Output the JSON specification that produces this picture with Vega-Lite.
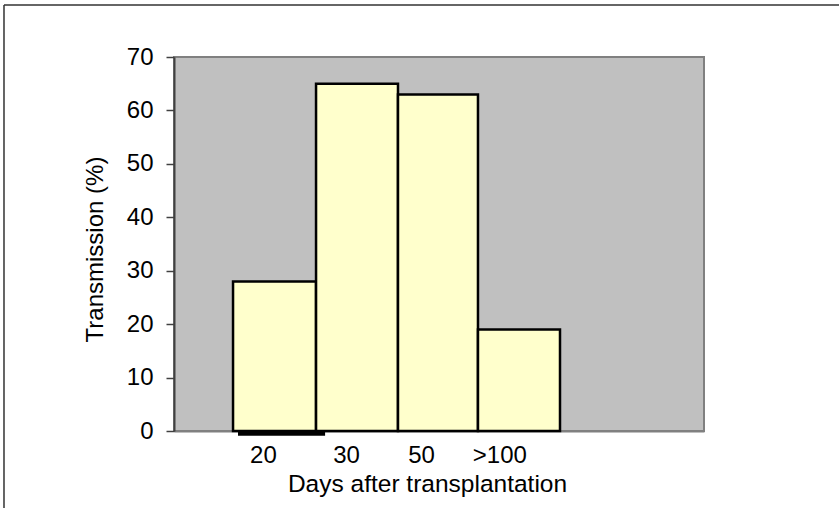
{
  "$schema": "https://vega.github.io/schema/vega-lite/v6.json",
  "width": 530,
  "height": 374,
  "autosize": {"type": "none"},
  "padding": {"left": 174, "top": 57, "right": 135, "bottom": 77},
  "background": "white",
  "config": {
    "font": "Liberation Sans",
    "view": {"fill": "#C0C0C0", "stroke": "#808080", "strokeWidth": 2}
  },
  "datasets": {
    "bars": [
      {"days": "20", "start": 0.724, "end": 1.742, "transmission": 28},
      {"days": "30", "start": 1.742, "end": 2.747, "transmission": 65},
      {"days": "50", "start": 2.747, "end": 3.728, "transmission": 63},
      {"days": ">100", "start": 3.728, "end": 4.734, "transmission": 19}
    ],
    "underline": [{"x1": 0.785, "x2": 1.853, "y": -0.4}],
    "frame": [
      {"x1": -2.085, "x2": -2.085, "y1": 79.75, "y2": -15},
      {"x1": -2.085, "x2": 8.2, "y1": 79.75, "y2": 79.75}
    ]
  },
  "layer": [
    {
      "data": {"name": "bars"},
      "mark": {"type": "rect", "fill": "#FFFFCC", "stroke": "black", "strokeWidth": 2.5},
      "encoding": {
        "x": {
          "field": "start",
          "type": "quantitative",
          "scale": {"domain": [0, 6.5], "nice": false, "zero": false, "padding": 0},
          "axis": {
            "values": [1.09, 2.11, 3.03, 3.99],
            "labelExpr": "datum.value < 1.5 ? '20' : datum.value < 2.5 ? '30' : datum.value < 3.5 ? '50' : '>100'",
            "ticks": false,
            "grid": false,
            "domainColor": "#808080",
            "domainWidth": 2,
            "labelFontSize": 24,
            "labelColor": "black",
            "labelPadding": 12,
            "labelFlush": false,
            "labelOverlap": false,
            "title": "Days after transplantation",
            "titleFontSize": 24.5,
            "titleFontWeight": "normal",
            "titleColor": "black",
            "titleX": 253,
            "titleY": 60,
            "titleBaseline": "alphabetic",
            "titleAlign": "center"
          }
        },
        "x2": {"field": "end"},
        "y": {
          "field": "transmission",
          "type": "quantitative",
          "scale": {"domain": [0, 70], "nice": false, "padding": 0},
          "axis": {
            "values": [0, 10, 20, 30, 40, 50, 60, 70],
            "grid": false,
            "tickSize": 8,
            "tickColor": "#404040",
            "tickWidth": 1.5,
            "domainColor": "#404040",
            "domainWidth": 2,
            "labelFontSize": 24,
            "labelColor": "black",
            "labelPadding": 13,
            "labelFlush": false,
            "title": "Transmission (%)",
            "titleFontSize": 24,
            "titleFontWeight": "normal",
            "titleColor": "black",
            "titleX": -72,
            "titleY": 192,
            "titleAngle": -90,
            "titleBaseline": "alphabetic",
            "titleAlign": "center"
          }
        },
        "y2": {"datum": 0}
      }
    },
    {
      "data": {"name": "underline"},
      "mark": {"type": "rule", "color": "black", "strokeWidth": 5, "clip": false},
      "encoding": {
        "x": {"field": "x1", "type": "quantitative"},
        "x2": {"field": "x2"},
        "y": {"field": "y", "type": "quantitative"}
      }
    },
    {
      "data": {"name": "frame"},
      "mark": {"type": "rule", "color": "#333333", "strokeWidth": 1.5, "clip": false},
      "encoding": {
        "x": {"field": "x1", "type": "quantitative"},
        "x2": {"field": "x2"},
        "y": {"field": "y1", "type": "quantitative"},
        "y2": {"field": "y2"}
      }
    }
  ]
}
